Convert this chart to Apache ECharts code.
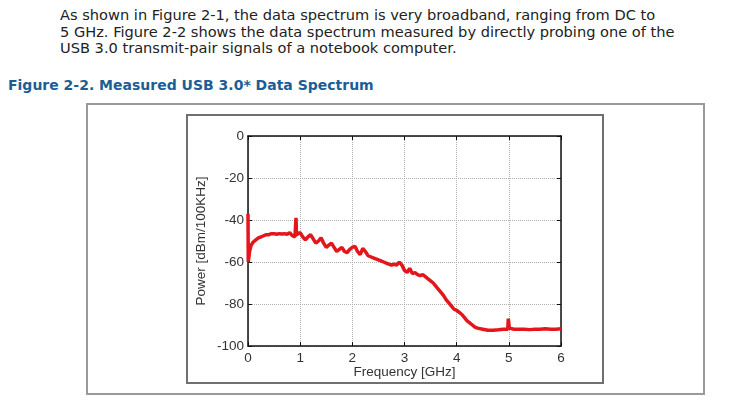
<!DOCTYPE html>
<html>
<head>
<meta charset="utf-8">
<script src="https://cdn.jsdelivr.net/npm/echarts@6/dist/echarts.min.js"></script>
<style>
  html, body { margin:0; padding:0; background:#fff; width:750px; height:412px; overflow:hidden; }
  #para { position:absolute; left:60px; top:7px; font-family:"DejaVu Sans", Verdana, sans-serif; font-size:14.6px; line-height:16.5px; color:#222; white-space:nowrap; }
  #ftitle { position:absolute; left:8px; top:77px; font-family:"DejaVu Sans", Verdana, sans-serif; font-weight:bold; font-size:14px; color:#1b5e96; white-space:nowrap; }
  #outer { position:absolute; left:86px; top:103px; width:615px; height:288px; border:2px solid #9a9a9a; }
  #inner { position:absolute; left:186px; top:114px; width:414px; height:266px; border:2px solid #707070; }
  #chart { position:absolute; left:0; top:0; width:750px; height:412px; }
</style>
</head>
<body>
<div id="para">As shown in Figure 2-1, the data spectrum is very broadband, ranging from DC to<br>5 GHz. Figure 2-2 shows the data spectrum measured by directly probing one of the<br>USB 3.0 transmit-pair signals of a notebook computer.</div>
<div id="ftitle">Figure 2-2. Measured USB 3.0* Data Spectrum</div>
<div id="outer"></div>
<div id="inner"></div>
<div id="chart"></div>
<script>
const freqGHz = [0, 0.005, 0.03, 0.06, 0.1, 0.15, 0.2, 0.25, 0.3, 0.35, 0.4, 0.45, 0.5, 0.55, 0.6, 0.65, 0.7, 0.75, 0.8, 0.85, 0.9, 0.91, 0.92, 0.93, 0.96, 1.0, 1.05, 1.1, 1.15, 1.2, 1.25, 1.3, 1.35, 1.4, 1.45, 1.5, 1.55, 1.6, 1.65, 1.7, 1.75, 1.8, 1.85, 1.9, 1.95, 2.0, 2.05, 2.1, 2.15, 2.2, 2.25, 2.3, 2.35, 2.4, 2.45, 2.5, 2.55, 2.6, 2.65, 2.7, 2.75, 2.8, 2.85, 2.9, 2.95, 3.0, 3.05, 3.1, 3.15, 3.2, 3.25, 3.3, 3.35, 3.4, 3.45, 3.5, 3.55, 3.6, 3.65, 3.7, 3.75, 3.8, 3.85, 3.9, 3.95, 4.0, 4.05, 4.1, 4.15, 4.2, 4.25, 4.3, 4.35, 4.4, 4.5, 4.6, 4.7, 4.8, 4.9, 4.98, 4.99, 5.0, 5.01, 5.1, 5.2, 5.3, 5.4, 5.5, 5.6, 5.7, 5.8, 5.9, 6.0];
const powerDbm = [-37, -60, -55, -52, -50.5, -49.5, -48.5, -48, -47.5, -47, -47, -46.5, -46.5, -46.8, -46.5, -46.7, -46.5, -46.8, -46, -47.5, -48, -47.5, -39, -47, -47.5, -46, -48, -49.5, -48, -47, -49, -51, -50, -48.5, -51, -53, -52, -51, -53, -55, -54, -53, -55, -55.5, -54, -53, -52.5, -55, -56.5, -53.5, -55, -57, -57.5, -58, -58.5, -59, -59.5, -60, -60.5, -61, -61.5, -61, -61.5, -60, -61.5, -64, -65, -63, -65.5, -65, -66, -66.5, -66, -67, -68, -69, -70, -71.5, -73, -74.5, -76, -78, -79.5, -81, -82.5, -83, -84, -85, -86.5, -88, -89, -90, -91, -91.5, -92, -92.5, -92.5, -92.3, -92, -92, -87, -86.5, -91.5, -92, -92, -92, -92.2, -92, -92, -91.8, -92, -92, -91.8];
const xTicks = [0, 1, 2, 3, 4, 5, 6];
const yTicks = [0, -20, -40, -60, -80, -100];

const chart = echarts.init(document.getElementById('chart'), null, {renderer: 'canvas'});
const lblFont = {fontFamily: '"Liberation Sans", Arial, sans-serif', fontSize: 13.5, color: '#333'};
const frameLine = {show: true, onZero: false, lineStyle: {color: '#111', width: 1.5}};
const inTick = {show: true, inside: true, length: 4, lineStyle: {color: '#111'}};
chart.setOption({
  animation: false,
  grid: {left: 248, top: 136, width: 313, height: 210},
  xAxis: [{
    type: 'value', min: xTicks[0], max: xTicks[xTicks.length - 1], interval: 1,
    name: 'Frequency [GHz]', nameLocation: 'middle', nameGap: 19, nameMoveOverlap: false,
    nameTextStyle: lblFont,
    axisLine: frameLine, axisTick: inTick,
    axisLabel: Object.assign({margin: 5}, lblFont),
    splitLine: {show: true, lineStyle: {color: '#b0b0b0', type: 'dotted', width: 1}}
  }, {
    type: 'value', position: 'top', min: xTicks[0], max: xTicks[xTicks.length - 1], interval: 1,
    axisLine: frameLine, axisTick: inTick,
    axisLabel: {show: false}, splitLine: {show: false}
  }],
  yAxis: [{
    type: 'value', min: yTicks[yTicks.length - 1], max: yTicks[0], interval: 20,
    name: 'Power [dBm/100KHz]', nameLocation: 'middle', nameGap: 40, nameMoveOverlap: false,
    nameTextStyle: lblFont,
    axisLine: frameLine, axisTick: inTick,
    axisLabel: Object.assign({margin: 4}, lblFont),
    splitLine: {show: true, lineStyle: {color: '#b0b0b0', type: 'dotted', width: 1}}
  }, {
    type: 'value', position: 'right', min: yTicks[yTicks.length - 1], max: yTicks[0], interval: 20,
    axisLine: frameLine, axisTick: inTick,
    axisLabel: {show: false}, splitLine: {show: false}
  }],
  series: [{
    type: 'line',
    data: freqGHz.map((f, i) => [f, powerDbm[i]]),
    showSymbol: false,
    lineStyle: {color: '#e3161b', width: 3.5},
    clip: true
  }]
});
</script>
</body>
</html>
